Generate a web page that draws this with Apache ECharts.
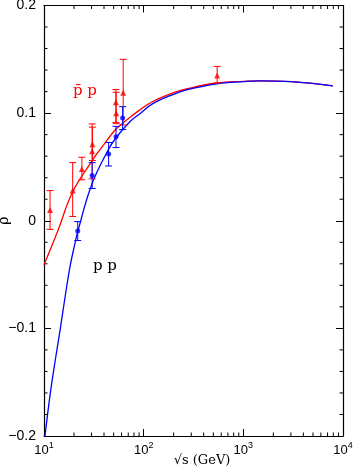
<!DOCTYPE html>
<html><head><meta charset="utf-8">
<script src="https://cdn.jsdelivr.net/npm/echarts@6/dist/echarts.min.js"></script>
<style>html,body{margin:0;padding:0;background:#fff}#c{width:354px;height:474px}</style>
</head><body><div id="c"></div>
<script>
// ---- data ----
const yTicks = [-0.2, -0.1, 0, 0.1, 0.2];
const yTickLabels = ['\u22120.2', '\u22120.1', '0', '0.1', '0.2'];
const yMinorTicks = [-0.18,-0.16,-0.14,-0.12,-0.08,-0.06,-0.04,-0.02,0.02,0.04,0.06,0.08,0.12,0.14,0.16,0.18];
const xTicks = [10, 100, 1000, 10000];
const xTickExponents = ['1', '2', '3', '4'];
const xMinorTicks = [20,30,40,50,60,70,80,90,200,300,400,500,600,700,800,900,2000,3000,4000,5000,6000,7000,8000,9000];

// pbar-p measurements (sqrt(s) GeV, rho, low, high)
const pbarS    = [11.5, 19.4, 24.0, 30.4, 30.6, 52.6, 53.0, 62.3, 546];
const pbarRho  = [0.010, 0.028, 0.048, 0.0645, 0.071, 0.110, 0.100, 0.119, 0.135];
const pbarLow  = [-0.008, 0.004, 0.038, 0.039, 0.056, 0.0914, 0.0902, 0.089, 0.128];
const pbarHigh = [0.028, 0.054, 0.059, 0.090, 0.087, 0.1219, 0.1194, 0.150, 0.1434];

// p-p measurements
const ppS    = [21.8, 30.4, 44.5, 52.8, 61.5];
const ppRho  = [-0.0095, 0.042, 0.062, 0.078, 0.0955];
const ppLow  = [-0.0184, 0.030, 0.0509, 0.068, 0.0847];
const ppHigh = [-0.0008, 0.054, 0.0727, 0.0877, 0.106];

// fitted curves
const pbarCurveS   = [10, 13.8, 19.2, 30, 40, 52.6, 69.5, 91.6, 124.5, 200, 269, 538, 1010, 1430, 3030, 7920];
const pbarCurveRho = [-0.041, -0.009, 0.026, 0.055, 0.071, 0.085, 0.0945, 0.103, 0.111, 0.119, 0.1225, 0.128, 0.1295, 0.130, 0.1293, 0.1253];
const ppCurveS   = [10, 11.5, 12.9, 14.5, 16.2, 18.2, 20.45, 21.9, 30, 44, 52.6, 72.7, 91.6, 124.5, 200, 269, 538, 1010, 1430, 3030, 7920];
const ppCurveRho = [-0.2076, -0.162, -0.131, -0.1016, -0.072, -0.043, -0.021, -0.0095, 0.0333, 0.0658, 0.0769, 0.092, 0.0995, 0.109, 0.1175, 0.1215, 0.1272, 0.1293, 0.130, 0.1293, 0.1253];

const RED = '#ff0000', BLUE = '#0000ff';
const chart = echarts.init(document.getElementById('c'), null, {renderer: 'canvas'});

function zip(a, b) { return a.map((v, i) => [v, b[i]]); }
function errItem(color) {
  return function (params, api) {
    const x = api.value(0);
    const lo = api.coord([x, api.value(1)]);
    const hi = api.coord([x, api.value(2)]);
    const w = 3.5;
    const st = {stroke: color, lineWidth: 1};
    return {type: 'group', children: [
      {type: 'line', shape: {x1: lo[0], y1: lo[1], x2: hi[0], y2: hi[1]}, style: st},
      {type: 'line', shape: {x1: lo[0]-w, y1: lo[1], x2: lo[0]+w, y2: lo[1]}, style: st},
      {type: 'line', shape: {x1: hi[0]-w, y1: hi[1], x2: hi[0]+w, y2: hi[1]}, style: st}
    ]};
  };
}

const yLabelFmt = v => { const i = yTicks.findIndex(t => Math.abs(t - v) < 1e-9); return i >= 0 ? yTickLabels[i] : ''; };
const xLabelFmt = v => { const i = xTicks.findIndex(t => Math.abs(t - v) / t < 1e-6); return i >= 0 ? '{b|10}{s|' + xTickExponents[i] + '}' : ''; };

const axisLine = {show: true, onZero: false, lineStyle: {color: '#000', width: 1.2}};
const xCommon = {type: 'log', logBase: 10, min: 10, max: 10000, splitLine: {show: false}, axisLine: axisLine,
  axisTick: {show: true, inside: true, length: 7, lineStyle: {color: '#000'}}};
const yCommon = {type: 'value', min: -0.2, max: 0.2, interval: 0.1, splitLine: {show: false}, axisLine: axisLine,
  axisTick: {show: true, inside: true, length: 7, lineStyle: {color: '#000'}}};

const tickStyle = {stroke: '#000', lineWidth: 1};

chart.setOption({
  animation: false,
  backgroundColor: '#fff',
  grid: {left: 44, right: 11, top: 5.5, bottom: 38, containLabel: false, outerBoundsMode: 'none'},
  xAxis: [
    Object.assign({}, xCommon, {position: 'bottom',
      name: '\u221As (GeV)', nameLocation: 'middle', nameGap: 18, nameMoveOverlap: false,
      nameTextStyle: {fontFamily: 'DejaVu Serif', fontSize: 13, color: '#000', padding: [0, 0, 0, 17]},
      axisLabel: {show: true, margin: 5, formatter: xLabelFmt, color: '#000', hideOverlap: false,
        showMinLabel: true, showMaxLabel: true,
        rich: {b: {fontFamily: 'Liberation Sans', fontSize: 13, color: '#000'},
               s: {fontFamily: 'Liberation Sans', fontSize: 9, color: '#000', padding: [0, 0, 9, 0]}}}}),
    Object.assign({}, xCommon, {position: 'top', axisLabel: {show: false}})
  ],
  yAxis: [
    Object.assign({}, yCommon, {position: 'left',
      name: '\u03C1', nameLocation: 'middle', nameGap: 33, nameRotate: 90, nameMoveOverlap: false,
      nameTextStyle: {fontFamily: 'DejaVu Serif', fontSize: 14, color: '#000'},
      axisLabel: {show: true, margin: 8, formatter: yLabelFmt, color: '#000', fontFamily: 'Liberation Sans', fontSize: 14}}),
    Object.assign({}, yCommon, {position: 'right', axisLabel: {show: false}})
  ],
  series: [
    {type: 'custom', name: 'xminor', silent: true, clip: false,
      data: xMinorTicks.map(v => [v, 0]),
      renderItem: function (params, api) {
        const v = api.value(0);
        const b = api.coord([v, -0.2]);
        const t = api.coord([v, 0.2]);
        return {type: 'group', children: [
          {type: 'line', shape: {x1: b[0], y1: b[1], x2: b[0], y2: b[1] - 3.5}, style: tickStyle},
          {type: 'line', shape: {x1: t[0], y1: t[1], x2: t[0], y2: t[1] + 3.5}, style: tickStyle}
        ]};
      }},
    {type: 'custom', name: 'yminor', silent: true, clip: false,
      data: yMinorTicks.map(v => [10, v]),
      renderItem: function (params, api) {
        const v = api.value(1);
        const l = api.coord([10, v]);
        const r = api.coord([10000, v]);
        return {type: 'group', children: [
          {type: 'line', shape: {x1: l[0], y1: l[1], x2: l[0] + 3.5, y2: l[1]}, style: tickStyle},
          {type: 'line', shape: {x1: r[0], y1: r[1], x2: r[0] - 3.5, y2: r[1]}, style: tickStyle}
        ]};
      }},
    {type: 'line', name: 'pbar fit', data: zip(pbarCurveS, pbarCurveRho), smooth: 0.4, symbol: 'none',
      lineStyle: {color: RED, width: 1.3}, z: 3},
    {type: 'line', name: 'pp fit', data: zip(ppCurveS, ppCurveRho), smooth: 0.4, symbol: 'none',
      lineStyle: {color: BLUE, width: 1.3}, z: 4},
    {type: 'custom', name: 'pbar err', data: pbarS.map((s, i) => [s, pbarLow[i], pbarHigh[i]]),
      renderItem: errItem(RED), z: 5},
    {type: 'custom', name: 'pp err', data: ppS.map((s, i) => [s, ppLow[i], ppHigh[i]]),
      renderItem: errItem(BLUE), z: 5},
    {type: 'scatter', name: 'pbar', data: zip(pbarS, pbarRho), symbol: 'triangle', symbolSize: 6,
      itemStyle: {color: RED}, z: 6},
    {type: 'scatter', name: 'pp', data: zip(ppS, ppRho), symbol: 'circle', symbolSize: 5,
      itemStyle: {color: BLUE}, z: 6}
  ],
  graphic: [
    {type: 'text', left: 73, top: 84, style: {text: 'p\u0304 p', font: '15px "DejaVu Serif"', fill: RED}},
    {type: 'text', left: 93, top: 259, style: {text: 'p p', font: '15px "DejaVu Serif"', fill: '#000'}}
  ]
});
</script>
</body></html>
